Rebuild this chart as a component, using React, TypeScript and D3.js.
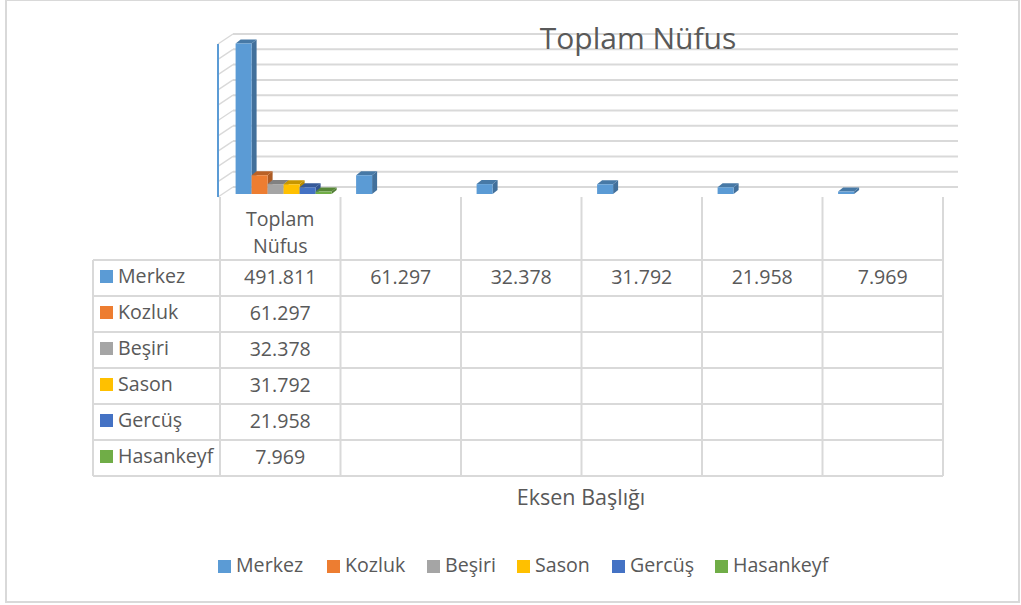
import React, { useEffect, useRef } from "react";
import * as d3 from "d3";

const chartTitle = "Toplam Nüfus";
const axisTitle = "Eksen Başlığı";
const categories = ["Toplam Nüfus", "c2", "c3", "c4", "c5", "c6"];
const seriesNames = ["Merkez", "Kozluk", "Beşiri", "Sason", "Gercüş", "Hasankeyf"];
const seriesColors = ["#5B9BD5", "#ED7D31", "#A5A5A5", "#FFC000", "#4472C4", "#70AD47"];
const merkez = [491811, 61297, 32378, 31792, 21958, 7969];
const kozluk = [61297];
const besiri = [32378];
const sason = [31792];
const gercus = [21958];
const hasankeyf = [7969];
const seriesValues = [merkez, kozluk, besiri, sason, gercus, hasankeyf];
const valueTicks = [0, 50000, 100000, 150000, 200000, 250000, 300000, 350000, 400000, 450000, 500000];

const W = 1021;
const H = 605;
const FONT = "'Open Sans', sans-serif";
const TEXT = "#595959";
const GRID = "#d9d9d9";
const LABEL_SIZE = 19.6;

// 3d offset of the columns and of the whole wall
const barDx = 5;
const barDy = -4;
const wallDx = 15;
const wallDy = -10;

export default function App() {
  const ref = useRef<SVGSVGElement>(null);

  useEffect(() => {
    const svg = d3.select(ref.current);
    svg.selectAll("*").remove();

    // chart frame
    svg.append("rect")
      .attr("x", 6).attr("y", 0)
      .attr("width", 1013).attr("height", 602)
      .attr("fill", "#fff")
      .attr("stroke", GRID).attr("stroke-width", 2);

    const tableX = d3.scaleBand<string>().domain(categories).range([220, 943]);
    const serieX = d3.scaleBand<string>().domain(seriesNames).range([15.6, 111.6]);
    const y = d3.scaleLinear().domain([0, 500000]).range([197, 44]);
    const rowY = d3.scaleBand<string>().domain(seriesNames).range([260, 476]);

    const fmt = d3.formatLocale({ decimal: ",", thousands: ".", grouping: [3], currency: ["", ""] }).format(",d");

    // back wall gridlines
    svg.append("g").selectAll("line").data(valueTicks).join("line")
      .attr("x1", 218 + wallDx).attr("x2", 958)
      .attr("y1", (d) => y(d) + wallDy).attr("y2", (d) => y(d) + wallDy)
      .attr("stroke", GRID).attr("stroke-width", 2);

    // side wall diagonals
    svg.append("g").selectAll("line").data(valueTicks).join("line")
      .attr("x1", 218).attr("x2", 218 + wallDx)
      .attr("y1", (d) => y(d)).attr("y2", (d) => y(d) + wallDy)
      .attr("stroke", GRID).attr("stroke-width", 1.4);

    svg.append("line")
      .attr("x1", 218).attr("x2", 218)
      .attr("y1", y(500000)).attr("y2", y(0))
      .attr("stroke", "#5B9BD5").attr("stroke-width", 2);

    // columns
    const base = y(0) - 3;
    const bars = svg.append("g");
    seriesNames.forEach((name, s) => {
      const color = seriesColors[s];
      seriesValues[s].forEach((v, c) => {
        const x0 = (tableX(categories[c]) as number) + (serieX(name) as number);
        const x1 = x0 + serieX.bandwidth();
        const top = base - (y(0) - y(v));
        const g = bars.append("g");
        g.append("polygon")
          .attr("points", [[x1, top], [x1 + barDx, top + barDy], [x1 + barDx, base + barDy], [x1, base]].join(" "))
          .attr("fill", d3.color(color)!.darker(0.9).formatHex());
        g.append("polygon")
          .attr("points", [[x0, top], [x0 + barDx, top + barDy], [x1 + barDx, top + barDy], [x1, top]].join(" "))
          .attr("fill", d3.color(color)!.darker(0.7).formatHex());
        g.append("rect")
          .attr("x", x0).attr("y", top)
          .attr("width", x1 - x0).attr("height", base - top)
          .attr("fill", color);
      });
    });

    // data table lines
    const table = svg.append("g");
    const colEdges = categories.map((c) => tableX(c) as number).concat(943);
    table.selectAll(".col").data(colEdges).join("line")
      .attr("class", "col")
      .attr("x1", (d) => d).attr("x2", (d) => d)
      .attr("y1", 197).attr("y2", 476)
      .attr("stroke", GRID).attr("stroke-width", 2);
    const rowEdges = seriesNames.map((n) => rowY(n) as number).concat(476);
    table.selectAll(".row").data(rowEdges).join("line")
      .attr("class", "row")
      .attr("x1", 93).attr("x2", 943)
      .attr("y1", (d) => d).attr("y2", (d) => d)
      .attr("stroke", GRID).attr("stroke-width", 2);
    table.append("line")
      .attr("x1", 93).attr("x2", 93).attr("y1", 260).attr("y2", 476)
      .attr("stroke", GRID).attr("stroke-width", 2);

    const catCenter = (tableX(categories[0]) as number) + tableX.bandwidth() / 2;
    categories[0].split(" ").forEach((word, i) => {
      svg.append("text")
        .attr("x", catCenter).attr("y", 226 + i * 27)
        .attr("text-anchor", "middle")
        .attr("font-family", FONT).attr("font-size", LABEL_SIZE).attr("fill", TEXT)
        .text(word);
    });

    seriesNames.forEach((name, s) => {
      const cy = (rowY(name) as number) + rowY.bandwidth() / 2;
      svg.append("rect")
        .attr("x", 100).attr("y", cy - 8)
        .attr("width", 13).attr("height", 13)
        .attr("fill", seriesColors[s]);
      svg.append("text")
        .attr("x", 118).attr("y", cy + 5)
        .attr("font-family", FONT).attr("font-size", LABEL_SIZE).attr("fill", TEXT)
        .text(name);
      seriesValues[s].forEach((v, c) => {
        svg.append("text")
          .attr("x", (tableX(categories[c]) as number) + tableX.bandwidth() / 2)
          .attr("y", cy + 6)
          .attr("text-anchor", "middle")
          .attr("font-family", FONT).attr("font-size", LABEL_SIZE).attr("fill", TEXT)
          .text(fmt(v));
      });
    });

    // titles
    svg.append("text")
      .attr("x", 638).attr("y", 49)
      .attr("text-anchor", "middle")
      .attr("font-family", FONT).attr("font-size", 30).attr("fill", TEXT)
      .text(chartTitle);
    svg.append("text")
      .attr("x", 581).attr("y", 505)
      .attr("text-anchor", "middle")
      .attr("font-family", FONT).attr("font-size", 21.5).attr("fill", TEXT)
      .text(axisTitle);

    // legend
    const legendX = [218, 327, 427, 517, 612, 715];
    seriesNames.forEach((name, s) => {
      svg.append("rect")
        .attr("x", legendX[s]).attr("y", 560)
        .attr("width", 13).attr("height", 13)
        .attr("fill", seriesColors[s]);
      svg.append("text")
        .attr("x", legendX[s] + 18).attr("y", 572)
        .attr("font-family", FONT).attr("font-size", LABEL_SIZE).attr("fill", TEXT)
        .text(name);
    });
  }, []);

  return (
    <svg
      ref={ref}
      width={W}
      height={H}
      style={{ position: "absolute", left: 0, top: 0, display: "block", background: "#fff" }}
    />
  );
}
